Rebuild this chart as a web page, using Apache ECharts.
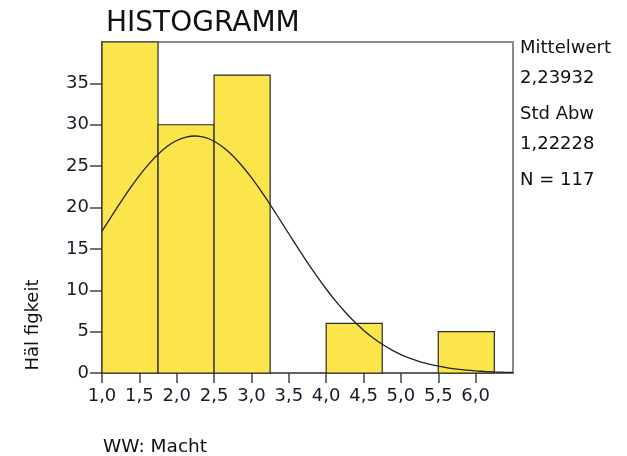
<!DOCTYPE html>
<html><head><meta charset="utf-8">
<script src="https://cdn.jsdelivr.net/npm/echarts@6/dist/echarts.min.js"></script>
<style>html,body{margin:0;padding:0;background:#fff}#c{width:627px;height:456px}</style>
</head><body><div id="c"></div>
<script>
// Histogram bins (lower edge, upper edge) and counts
var binStart = [1.0, 1.75, 2.5, 4.0, 5.5];
var binEnd   = [1.75, 2.5, 3.25, 4.75, 6.25];
var counts   = [40, 30, 36, 6, 5];
// Fitted normal curve
var curveX = [1.0,1.125,1.25,1.375,1.5,1.625,1.75,1.875,2.0,2.125,2.25,2.375,2.5,2.625,2.75,2.875,3.0,3.125,3.25,3.375,3.5,3.625,3.75,3.875,4.0,4.125,4.25,4.375,4.5,4.625,4.75,4.875,5.0,5.125,5.25,5.375,5.5,5.625,5.75,5.875,6.0,6.125,6.25,6.375,6.5];
var curveY = [17.13,18.90,20.64,22.30,23.85,25.24,26.44,27.40,28.10,28.51,28.64,28.46,28.00,27.25,26.25,25.02,23.60,22.03,20.35,18.60,16.83,15.06,13.34,11.70,10.15,8.71,7.40,6.22,5.18,4.26,3.47,2.80,2.23,1.76,1.38,1.07,0.82,0.62,0.46,0.34,0.25,0.18,0.13,0.09,0.07];
var xTicks = [1.0,1.5,2.0,2.5,3.0,3.5,4.0,4.5,5.0,5.5,6.0];
var yTicks = [0,5,10,15,20,25,30,35];
var stats = ['Mittelwert','2,23932','Std Abw','1,22228','N = 117'];

var FONT = 'DejaVu Sans';
var chart = echarts.init(document.getElementById('c'));
var barData = binStart.map(function(s,i){return [s, binEnd[i], counts[i]];});
var curveData = curveX.map(function(x,i){return [x, curveY[i]];});
var statY = [48, 78, 114, 144, 180];

chart.setOption({
  animation:false,
  textStyle:{fontFamily:FONT},
  title:{text:'HISTOGRAMM', left:101, top:5, textStyle:{fontFamily:FONT, fontSize:28, fontWeight:'normal', color:'#111'}},
  grid:{left:102, right:114, top:42, bottom:83, show:true, borderColor:'#8a8a8a', borderWidth:2, backgroundColor:'#fff'},
  xAxis:{type:'value', min:1, max:6.5, interval:0.5,
    axisLine:{show:true, onZero:false, lineStyle:{color:'#555', width:1.5}},
    axisTick:{show:true, length:10, customValues:xTicks, lineStyle:{color:'#444', width:1.5}},
    axisLabel:{customValues:xTicks, margin:14, fontFamily:FONT, fontSize:18, color:'#1a1a2a',
      formatter:function(v){return v.toFixed(1).replace('.',',');}},
    splitLine:{show:false}},
  yAxis:{type:'value', min:0, max:40, interval:5,
    axisLine:{show:true, lineStyle:{color:'#666', width:1.5}},
    axisTick:{show:true, length:12, customValues:yTicks, lineStyle:{color:'#444', width:1.5}},
    axisLabel:{customValues:yTicks, margin:13, fontFamily:FONT, fontSize:18, color:'#1a1a2a'},
    splitLine:{show:false}},
  graphic:[
    {type:'text', rotation:Math.PI/2, x:33, y:325, style:{text:'Häl figkeit', font:'18px "DejaVu Sans"', fill:'#111', align:'center', verticalAlign:'middle'}},
    {type:'text', x:103, y:447, style:{text:'WW: Macht', font:'18.5px "DejaVu Sans"', fill:'#111', align:'left', verticalAlign:'middle'}}
  ].concat(stats.map(function(s,i){
    return {type:'text', x:520, y:statY[i], style:{text:s, font:'18px "DejaVu Sans"', fill:'#111', align:'left', verticalAlign:'middle'}};
  })),
  series:[
    {type:'custom', data:barData, encode:{x:[0,1], y:2},
      renderItem:function(params, api){
        var p0 = api.coord([api.value(0), 0]);
        var p1 = api.coord([api.value(1), api.value(2)]);
        return {type:'rect', shape:{x:p0[0], y:p1[1], width:p1[0]-p0[0], height:p0[1]-p1[1]},
          style:{fill:'#fce54b', stroke:'#2a2a2a', lineWidth:1.2}};
      }, z:2},
    {type:'line', data:curveData, smooth:0.3, showSymbol:false, clip:true,
      lineStyle:{color:'#222', width:1.3}, z:3}
  ]
});
</script></body></html>
